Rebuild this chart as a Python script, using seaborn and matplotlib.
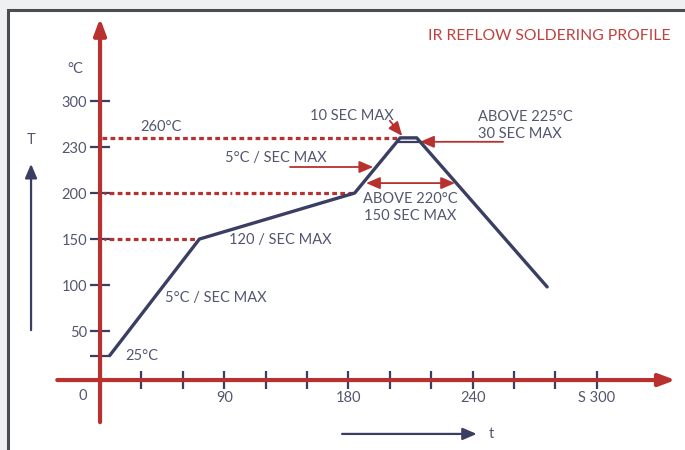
import numpy as np
import matplotlib.pyplot as plt
import seaborn as sns
from matplotlib.patches import Rectangle

RED = '#b8312f'
NAVY = '#3b3e63'
TXT = '#53566f'

# reflow profile (seconds, deg C)
time_s = [7, 72, 183, 205, 213, 276]
temp_c = [25, 150, 200, 244, 244, 98]
# inner edge of the flat top
peak_inner_t = [204, 214.5]
peak_inner_c = [238, 238]

x_ticks = [30, 60, 90, 120, 150, 180, 200, 220, 240, 260, 280, 300]
x_labels = ['', '', '90', '', '', '180', '', '', '240', '', '', 'S 300']
y_ticks = [25, 50, 100, 150, 200, 230, 300]
y_labels = ['', '50', '100', '150', '200', '230', '300']

# red guide lines: level, start, end
guide_260 = [244, 1.5, 204]
guide_200 = [200, 3, 183]
guide_150 = [150, 3, 72]


# the diagram axes are not linear: piecewise scales
def make_scale(xp, fp):
    def fwd(v):
        return np.interp(np.asarray(v, float), xp, fp)

    def inv(v):
        return np.interp(np.asarray(v, float), fp, xp)
    return fwd, inv


x_fwd, x_inv = make_scale([-1000, 0, 180, 300, 1000],
                          [-1000 / 30, 0, 6, 12, 12 + 700 / 20])
y_fwd, y_inv = make_scale([-1000, 0, 50, 200, 230, 300, 1000],
                          [-1000 / 50 * 1.065, 0, 1.065, 4.065, 5.065, 6.065, 6.065 + 700 / 70])

sns.set_style('white')
plt.rcParams['font.family'] = ['Lato', 'DejaVu Sans']
plt.rcParams['lines.scale_dashes'] = False

fig = plt.figure(figsize=(6.85, 4.5), dpi=100)
fig.patch.set_facecolor('#eef0f2')
fig.patches.append(Rectangle((8 / 685, -0.1), 1.1, 1.1 - 10 / 450,
                             transform=fig.transFigure, facecolor='white',
                             edgecolor='#4b4e50', lw=2.2, zorder=-1))

ax = fig.add_axes([0, 0, 1, 1])
ax.patch.set_alpha(0)
ax.set_xscale('function', functions=(x_fwd, x_inv))
ax.set_yscale('function', functions=(y_fwd, y_inv))
ax.set_xlim(-72.5, 342.6)
ax.set_ylim(-71.4, 453.8)

# axes with arrow heads
axis_arrow = dict(arrowstyle='-|>,head_length=0.75,head_width=0.28',
                  color=RED, lw=3, mutation_scale=13, shrinkA=0, shrinkB=0)
ax.annotate('', xy=(338, 0), xytext=(-31, 0), zorder=1, arrowprops=axis_arrow)
ax.annotate('', xy=(0, 426), xytext=(0, -43), zorder=1, arrowprops=axis_arrow)

for s in ax.spines.values():
    s.set_visible(False)
ax.spines['bottom'].set_position(('data', 0))
ax.spines['left'].set_position(('data', 0))
ax.set_xticks(x_ticks, x_labels)
ax.set_yticks(y_ticks, y_labels)
ax.minorticks_off()
ax.tick_params(axis='both', direction='inout', color=NAVY, width=1.6,
               labelcolor=TXT, labelsize=10.5, bottom=True, left=True)
ax.tick_params(axis='x', length=13.5, pad=1)
ax.tick_params(axis='y', length=14.5, pad=2)
ax.set_xlabel('')
ax.set_ylabel('')

# dashed guides
for lvl, a, b in [guide_260]:
    ax.hlines(lvl, a, b, color=RED, lw=2.3, linestyles=(0, (3.4, 2.4)), zorder=2)
for lvl, a, b in [guide_200, guide_150]:
    ax.hlines(lvl, a, b, color=RED, lw=2.3,
              linestyles=(0, (1.3, 2.4) + (3.4, 2.4) * 40), zorder=2)

# profile
sns.lineplot(x=time_s, y=temp_c, ax=ax, color=NAVY, lw=2.4, sort=False, zorder=4)
sns.lineplot(x=peak_inner_t, y=peak_inner_c, ax=ax, color=NAVY, lw=1.6, zorder=4)

# red callout arrows
arr = dict(arrowstyle='-|>,head_length=0.7,head_width=0.3', color=RED, lw=1.3,
           mutation_scale=12, shrinkA=0, shrinkB=0)
ax.annotate('', xy=(206, 247), xytext=(200, 270), arrowprops=arr)
ax.annotate('', xy=(214.6, 238), xytext=(254.7, 238), arrowprops=arr)
ax.annotate('', xy=(192, 217), xytext=(137.7, 217), arrowprops=arr)
ax.annotate('', xy=(231.5, 206.5), xytext=(188.5, 206.5),
            arrowprops=dict(arr, arrowstyle='<|-|>,head_length=0.7,head_width=0.3'))

# navy T and t arrows
nav = dict(arrowstyle='-|>,head_length=0.7,head_width=0.3', color=NAVY, lw=1.6,
           mutation_scale=12, shrinkA=0, shrinkB=0)
ax.annotate('', xy=(-50, 219), xytext=(-50, 51), arrowprops=nav)
ax.annotate('', xy=(242, -55), xytext=(175.4, -55), arrowprops=nav)

fs = 10.5
kw = dict(color=TXT, fontsize=fs, va='center')
ax.text(-50, 240.7, 'T', ha='center', **kw)
ax.text(247.7, -55, 't', ha='left', **kw)
ax.text(-18, 349, '°C', ha='center', **kw)
ax.text(-12.3, -16.3, '0', ha='center', **kw)
ax.text(29, 260.4, '260°C', ha='left', **kw)
ax.text(152, 277, '10 SEC MAX', ha='left', **kw)
ax.text(242.6, 262.3, 'ABOVE 225°C\n30 SEC MAX', ha='left', linespacing=1.3, **kw)
ax.text(90.6, 222.8, '5°C / SEC MAX', ha='left', **kw)
ax.text(209.8, 184.2, 'ABOVE 220°C\n150 SEC MAX', ha='center', linespacing=1.3, **kw)
ax.text(93.5, 148.9, '120 / SEC MAX', ha='left', **kw)
ax.text(47.1, 85.9, '5°C / SEC MAX', ha='left', **kw)
ax.text(18.1, 24.5, '25°C', ha='left', **kw)

fig.text(670 / 685, 1 - 36 / 450, 'IR REFLOW SOLDERING PROFILE', ha='right',
         va='center', color='#c0413d', fontsize=11.3)

fig.savefig('out.png', dpi=100)
